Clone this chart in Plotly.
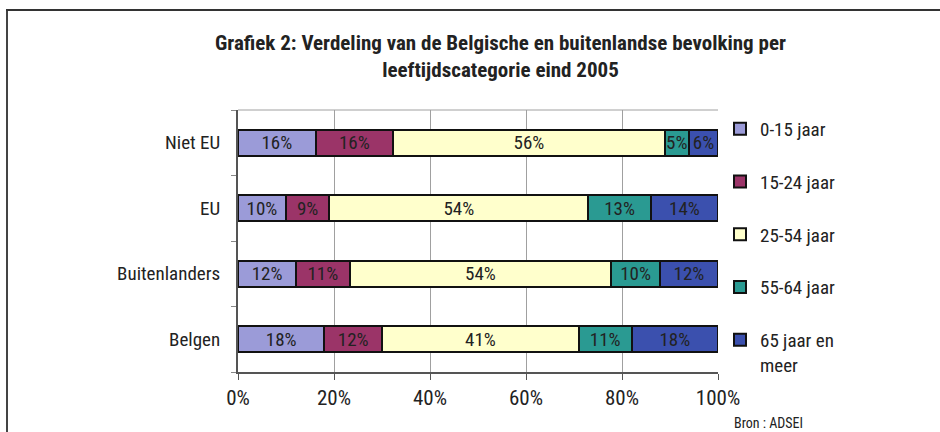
import plotly.graph_objects as go

categories = ["Belgen", "Buitenlanders", "EU", "Niet EU"]
age_groups = ["0-15 jaar", "15-24 jaar", "25-54 jaar", "55-64 jaar", "65 jaar en<br>meer"]
values = {
    "0-15 jaar": [18, 12, 10, 16],
    "15-24 jaar": [12, 11, 9, 16],
    "25-54 jaar": [41, 54, 54, 56],
    "55-64 jaar": [11, 10, 13, 5],
    "65 jaar en<br>meer": [18, 12, 14, 6],
}
colors = ["#9b9bd8", "#9b3468", "#ffffcc", "#2a9a92", "#3b50ae"]
x_ticks = [0, 20, 40, 60, 80, 100]
x_tick_labels = ["0%", "20%", "40%", "60%", "80%", "100%"]

FONT = "Liberation Sans Narrow, Arial Narrow, Roboto Condensed, sans-serif"

W, H = 940, 432
L, R, T, B = 238, 718, 110, 372

fig = go.Figure()
for i, g in enumerate(age_groups):
    fig.add_trace(go.Bar(
        y=categories, x=values[g], name=g, orientation="h",
        marker=dict(color=colors[i], line=dict(color="#111111", width=2)),
        text=[f"{v}%" for v in values[g]], textposition="inside", textangle=0,
        insidetextanchor="middle", constraintext="none",
        textfont=dict(family=FONT, size=19, color="#222222"),
        legendgroup=f"g{i}", hoverinfo="skip",
    ))

def px(x):
    return (x - L) / (R - L)

def py(y):
    return (B - y) / (B - T)

fig.update_layout(
    width=W, height=H,
    margin=dict(l=L, r=W - R, t=T, b=H - B, pad=0),
    barmode="stack", barnorm="percent", bargap=0.6,
    plot_bgcolor="white", paper_bgcolor="white",
    font=dict(family=FONT, size=19, color="#222222"),
    showlegend=True,
    legend=dict(
        x=px(720), y=py(110), xanchor="left", yanchor="top",
        traceorder="grouped", tracegroupgap=25, maxheight=420, valign="top",
        font=dict(family=FONT, size=19, color="#222222"),
        itemwidth=30, bgcolor="rgba(0,0,0,0)",
    ),
    xaxis=dict(
        range=[0, 100], tickvals=x_ticks, ticktext=x_tick_labels,
        showgrid=True, gridcolor="#a0a0a0", gridwidth=1,
        showline=True, linecolor="#555555", linewidth=2,
        ticks="outside", ticklen=6, tickcolor="#555555",
        tickfont=dict(family=FONT, size=21, color="#222222"),
        zeroline=False, fixedrange=True,
    ),
    yaxis=dict(
        categoryorder="array", categoryarray=categories,
        showline=True, linecolor="#555555", linewidth=2,
        ticks="outside", ticklen=5, tickcolor="#888888", tickson="boundaries",
        tickfont=dict(family=FONT, size=19, color="#222222"),
        showgrid=False, fixedrange=True, ticklabelstandoff=12,
    ),
    shapes=[
        dict(type="line", xref="paper", yref="paper", x0=0, x1=1, y0=1, y1=1,
             line=dict(color="#a0a0a0", width=1)),
        dict(type="line", xref="paper", yref="paper", x0=px(7), x1=px(7), y0=py(10), y1=py(440),
             line=dict(color="#444444", width=2)),
        dict(type="line", xref="paper", yref="paper", x0=px(6), x1=px(945), y0=py(10), y1=py(10),
             line=dict(color="#333333", width=2)),
    ],
    annotations=[
        dict(text="<b>Grafiek 2: Verdeling van de Belgische en buitenlandse bevolking per<br>leeftijdscategorie eind 2005</b>",
             xref="paper", yref="paper", x=px(500), y=py(57), xanchor="center", yanchor="middle",
             showarrow=False, font=dict(family=FONT, size=21, color="#222222"), align="center"),
        dict(text="Bron : ADSEI", xref="paper", yref="paper", x=px(732), y=py(423),
             xanchor="left", yanchor="middle", showarrow=False,
             font=dict(family=FONT, size=14, color="#222222")),
    ],
)

fig.write_html("out.html", config={"displayModeBar": False, "staticPlot": True},
               post_script="document.body.style.margin='0';document.body.style.overflow='hidden';")
